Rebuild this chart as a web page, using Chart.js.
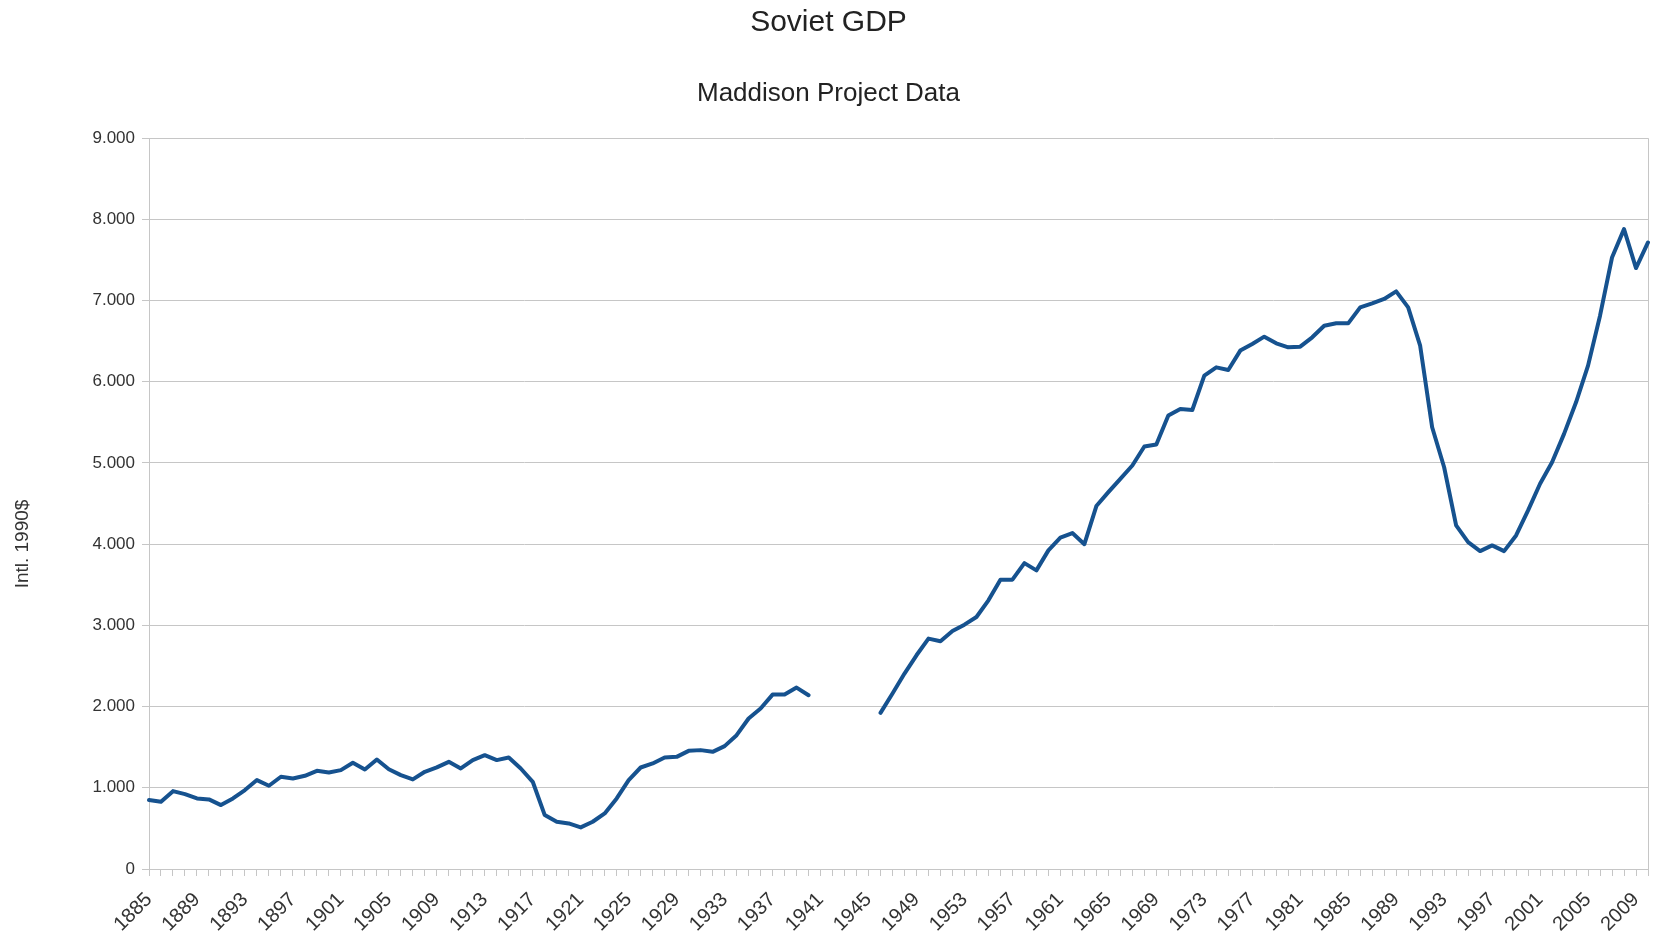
<!DOCTYPE html>
<html>
<head>
<meta charset="utf-8">
<script src="https://cdn.jsdelivr.net/npm/chart.js@4/dist/chart.umd.min.js"></script>
<style>
  html, body { margin: 0; padding: 0; background: #fff; }
  #wrap { width: 1657px; height: 943px; }
</style>
</head>
<body>
<div id="wrap"><canvas id="gdp" width="1657" height="943"></canvas></div>
<script>
// Maddison Project Data, Soviet GDP per capita (Intl. 1990$)
var firstYear = 1885;
var lastYear = 2010;
var years = [];
for (var y = firstYear; y <= lastYear; y++) years.push(String(y));

var gdp1885to1940 = [
  849, 828, 959, 922, 869, 857, 787, 869, 972, 1095,
  1025, 1136, 1115, 1148, 1209, 1189, 1218, 1308, 1226, 1349,
  1228, 1156, 1103, 1197, 1251, 1320, 1238, 1341, 1402, 1341,
  1374, 1238, 1074, 664, 582, 561, 512, 582, 685, 869,
  1095, 1250, 1300, 1374, 1381, 1455, 1464, 1443, 1513, 1648,
  1853, 1976, 2148, 2148, 2234, 2140
];
var gdpWarGap = [null, null, null, null, null]; // 1941-1945, no data
var gdp1946to2010 = [
  1923, 2161, 2407, 2632, 2837, 2804, 2930, 3009, 3103, 3309,
  3563, 3563, 3767, 3678, 3924, 4080, 4137, 4000, 4470, 4641,
  4805, 4969, 5203, 5228, 5584, 5666, 5653, 6076, 6178, 6146,
  6384, 6466, 6556, 6474, 6425, 6433, 6548, 6691, 6720, 6720,
  6916, 6965, 7020, 7113, 6916, 6445, 5440, 4948, 4231, 4026,
  3915, 3985, 3915, 4108, 4416, 4744, 5010, 5359, 5748, 6199,
  6814, 7531, 7880, 7401, 7716
];
var gdp = gdp1885to1940.concat(gdpWarGap, gdp1946to2010);

var yTicks = [0, 1000, 2000, 3000, 4000, 5000, 6000, 7000, 8000, 9000];

var fontName = '"Liberation Sans", Arial, sans-serif';
var gridGray = '#c6c6c6';
var textGray = '#333333';

function dotted(v) {
  // 9000 -> "9.000"
  var s = String(Math.round(v));
  return s.replace(/\B(?=(\d{3})+(?!\d))/g, '.');
}

var yTitle = {
  id: 'yTitle',
  afterDraw: function(chart) {
    var ctx = chart.ctx;
    ctx.save();
    ctx.translate(23, 544);
    ctx.rotate(-Math.PI / 2);
    ctx.font = '19px ' + fontName;
    ctx.fillStyle = textGray;
    ctx.textAlign = 'center';
    ctx.textBaseline = 'middle';
    ctx.fillText('Intl. 1990$', 0, 0);
    ctx.restore();
  }
};

new Chart('gdp', {
  type: 'line',
  data: {
    labels: years,
    datasets: [{
      label: 'Soviet GDP',
      data: gdp,
      borderColor: '#16528f',
      borderWidth: 4,
      pointRadius: 0,
      tension: 0,
      spanGaps: false,
      borderJoinStyle: 'round',
      borderCapStyle: 'round'
    }]
  },
  options: {
    responsive: false,
    animation: false,
    devicePixelRatio: 1,
    layout: { padding: 0 },
    plugins: {
      legend: { display: false },
      tooltip: { enabled: false },
      title: {
        display: true,
        text: 'Soviet GDP',
        color: '#222',
        font: { family: fontName, size: 30, weight: 'normal' },
        padding: { top: 5, bottom: 37 }
      },
      subtitle: {
        display: true,
        text: 'Maddison Project Data',
        color: '#222',
        font: { family: fontName, size: 26, weight: 'normal' },
        padding: { top: 0, bottom: 29 }
      }
    },
    scales: {
      x: {
        type: 'category',
        offset: false,
        border: { color: gridGray, width: 1 },
        grid: {
          drawOnChartArea: true,
          tickLength: 7,
          tickColor: gridGray,
          color: function(c) {
            return c.index === years.length - 1 ? gridGray : 'rgba(0,0,0,0)';
          }
        },
        ticks: {
          autoSkip: false,
          minRotation: 45,
          maxRotation: 45,
          padding: 12,
          color: textGray,
          font: { family: fontName, size: 20 },
          callback: function(val, idx) {
            var yr = Number(years[idx]);
            return (yr - firstYear) % 4 === 0 ? years[idx] : '';
          }
        },
        afterFit: function(scale) {
          scale.height = 74;
          scale.paddingLeft = 0;
          scale.paddingRight = 9;
        }
      },
      y: {
        min: yTicks[0],
        max: yTicks[yTicks.length - 1],
        border: { color: gridGray, width: 1 },
        grid: { color: gridGray, tickLength: 7 },
        ticks: {
          stepSize: 1000,
          padding: 7,
          color: textGray,
          font: { family: fontName, size: 17 },
          callback: function(v) { return dotted(v); }
        },
        afterFit: function(scale) { scale.width = 149; }
      }
    }
  },
  plugins: [yTitle]
});
</script>
</body>
</html>
